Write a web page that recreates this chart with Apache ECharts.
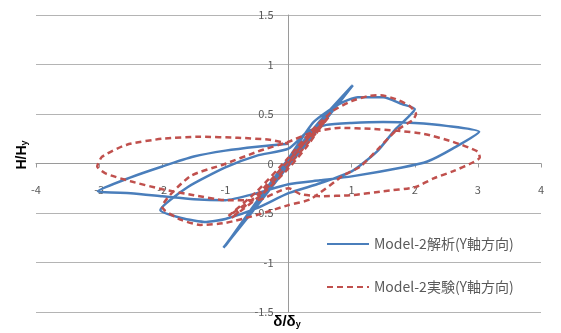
<!DOCTYPE html>
<html>
<head>
<meta charset="utf-8">
<script src="https://cdn.jsdelivr.net/npm/echarts@6/dist/echarts.min.js"></script>
<style>
  html, body { margin: 0; padding: 0; background: #fff; }
  #chart { width: 561px; height: 333px; }
</style>
</head>
<body>
<div id="chart"></div>
<script>
// Normalised displacement (δ/δy) and normalised load (H/Hy) – analysis run
const anaX = [0, 0.5, 1.02, 0.5, 0, -0.5, -1.03, -0.5, 0, 0.5, 1.0, 0.5, 0, -0.5, -1.0, -0.5, 0,
  0.4, 0.8, 1.1, 1.5, 1.8, 2.0,
  1.7, 1.4, 1.0, 0.5, 0, -0.5, -1.0, -1.3, -1.7, -2.03,
  -1.6, -1.0, -0.5, 0,
  0.3, 0.6, 1.0, 1.5, 2.0, 2.5, 3.02,
  2.6, 2.2, 1.8, 1.0, 0.5, 0, -0.5, -1.0, -1.5, -2.0, -2.5, -3.02,
  -2.5, -2.0, -1.5, -1.0, -0.5, 0];
const anaY = [0, 0.41, 0.79, 0.37, -0.02, -0.43, -0.85, -0.40, 0.03, 0.43, 0.78, 0.39, 0.0, -0.41, -0.83, -0.38, 0.05,
  0.42, 0.60, 0.67, 0.67, 0.60, 0.55,
  0.35, 0.12, -0.08, -0.20, -0.30, -0.45, -0.56, -0.59, -0.55, -0.47,
  -0.24, -0.04, 0.08, 0.15,
  0.32, 0.39, 0.41, 0.42, 0.41, 0.38, 0.32,
  0.15, 0.02, -0.04, -0.13, -0.17, -0.21, -0.30, -0.37, -0.36, -0.33, -0.30, -0.28,
  -0.14, -0.03, 0.07, 0.13, 0.17, 0.20];

// Normalised displacement and load – test run
const expX = [0, 0.3, 0.6, 0.3, 0, -0.4, -0.9, -0.5, 0, 0.35, 0.65, 0.3, 0, -0.4, -0.95, -0.5, 0,
  0.35, 0.7, 1.0, 1.25, 1.46, 1.7, 1.92, 2.02, 1.97,
  1.7, 1.41, 1.14, 0.87, 0.35, 0, -0.5, -1.0, -1.4, -1.7, -1.95, -2.0,
  -1.56, -1.03, -0.49, 0,
  0.4, 0.83, 1.3, 1.73, 2.14, 2.6, 3.0, 3.03, 2.92,
  2.6, 2.3, 2.0, 1.5, 1.0, 0.5, 0.19, 0, -0.5, -1.0, -1.5, -2.0, -2.5, -2.9, -3.03,
  -2.95, -2.56, -2.0, -1.4, -0.8, -0.3, 0];
const expY = [0, 0.25, 0.45, 0.18, -0.05, -0.30, -0.55, -0.32, 0.03, 0.28, 0.48, 0.20, -0.02, -0.28, -0.53, -0.28, 0.06,
  0.32, 0.53, 0.63, 0.68, 0.69, 0.65, 0.58, 0.50, 0.44,
  0.33, 0.14, -0.03, -0.12, -0.36, -0.42, -0.52, -0.60, -0.62, -0.57, -0.48, -0.44,
  -0.13, -0.01, 0.12, 0.22,
  0.32, 0.36, 0.35, 0.33, 0.30, 0.22, 0.12, 0.06, 0.01,
  -0.08, -0.15, -0.24, -0.28, -0.32, -0.33, -0.31, -0.25, -0.37, -0.37, -0.32, -0.26, -0.18, -0.10, -0.03,
  0.07, 0.19, 0.25, 0.27, 0.26, 0.24, 0.20];

const seriesNames = ['Model-2解析(Y軸方向)', 'Model-2実験(Y軸方向)'];
const xTicks = { min: -4, max: 4, step: 1 };
const yTicks = { min: -1.5, max: 1.5, step: 0.5 };

const pairs = (xs, ys) => xs.map((x, i) => [x, ys[i]]);

// Plot box geometry; both axes are shifted so they cross at (0, 0)
const W = 561, H = 333;
const gridBox = { left: 36, right: 20, top: 15, bottom: 21 };
const plotW = W - gridBox.left - gridBox.right;
const plotH = H - gridBox.top - gridBox.bottom;
const yAxisShift = -plotW * (0 - xTicks.min) / (xTicks.max - xTicks.min);
const xAxisShift = -plotH * (0 - yTicks.min) / (yTicks.max - yTicks.min);

const chart = echarts.init(document.getElementById('chart'), null, { renderer: 'canvas' });
const labelFont = 'Noto Sans CJK JP';

chart.setOption({
  animation: false,
  backgroundColor: '#ffffff',
  grid: Object.assign({ containLabel: false }, gridBox),
  xAxis: {
    type: 'value', position: 'bottom', offset: xAxisShift,
    min: xTicks.min, max: xTicks.max, interval: xTicks.step,
    axisLine: { onZero: false, lineStyle: { color: '#9a9a9a', width: 1 } },
    axisTick: { show: true, length: 4, lineStyle: { color: '#9a9a9a' } },
    splitLine: { show: false },
    axisLabel: {
      margin: 21, fontSize: 11, color: '#595959', fontFamily: labelFont,
      formatter: v => (v === 0 ? '' : String(v))
    }
  },
  yAxis: {
    type: 'value', position: 'left', offset: yAxisShift,
    min: yTicks.min, max: yTicks.max, interval: yTicks.step,
    axisLine: { show: true, onZero: false, lineStyle: { color: '#9a9a9a', width: 1 } },
    axisTick: { show: false },
    splitLine: { show: true, lineStyle: { color: '#b4b4b4', width: 1 } },
    axisLabel: { margin: 15, fontSize: 11, color: '#595959', fontFamily: labelFont }
  },
  legend: {
    orient: 'vertical',
    left: 321, top: 232,
    itemWidth: 42, itemHeight: 14, itemGap: 29,
    itemStyle: { opacity: 0 },
    textStyle: { fontSize: 14, color: '#595959', fontFamily: labelFont },
    data: seriesNames
  },
  series: [
    {
      name: seriesNames[0], type: 'line', data: pairs(anaX, anaY),
      showSymbol: false, symbol: 'none', smooth: 0.2,
      lineStyle: { color: '#4a7ebb', width: 2.5 },
      itemStyle: { color: '#4a7ebb' }, z: 2
    },
    {
      name: seriesNames[1], type: 'line', data: pairs(expX, expY),
      showSymbol: false, symbol: 'none', smooth: 0.2,
      lineStyle: { color: '#c0504d', width: 2.5, type: [6, 4] },
      itemStyle: { color: '#c0504d' }, z: 3
    }
  ],
  graphic: [
    {
      type: 'text', x: 22, y: 155, rotation: Math.PI / 2,
      style: {
        text: '{m|H/H}{s|y}',
        align: 'center', verticalAlign: 'middle',
        rich: {
          m: { fontSize: 14, fontWeight: 'bold', fill: '#000', fontFamily: 'Liberation Sans' },
          s: { fontSize: 9, fontWeight: 'bold', fill: '#000', fontFamily: 'Liberation Sans', verticalAlign: 'bottom', padding: [6, 0, 0, 0] }
        }
      }
    },
    {
      type: 'text', x: 287, y: 322,
      style: {
        text: '{m|δ/δ}{s|y}',
        align: 'center', verticalAlign: 'middle',
        rich: {
          m: { fontSize: 15, fontWeight: 'bold', fill: '#000', fontFamily: 'Liberation Sans' },
          s: { fontSize: 9, fontWeight: 'bold', fill: '#000', fontFamily: 'Liberation Sans', verticalAlign: 'bottom', padding: [6, 0, 0, 0] }
        }
      }
    }
  ]
});
</script>
</body>
</html>
